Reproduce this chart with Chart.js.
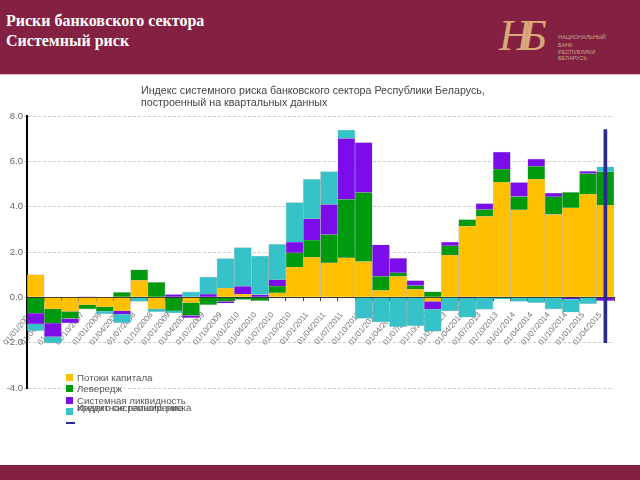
<!DOCTYPE html>
<html>
<head>
<meta charset="utf-8">
<title>Системный риск</title>
<script src="https://cdn.jsdelivr.net/npm/chart.js@4"></script>
<style>
    html, body { margin: 0; padding: 0; background: #fff; }
    #page { position: relative; width: 640px; height: 480px; overflow: hidden; }
    #chart { position: absolute; left: 0; top: 0; }
    .band { position: absolute; left: 0; width: 640px; background: #842041; }
    .abs { position: absolute; white-space: nowrap; }
    .head { left: 6px; color: #fff; font: bold 16px "Liberation Serif", serif; }
    .chart-title { left: 141px; color: #444; font: 10.7px "Liberation Sans", sans-serif; }
    .logo { left: 499px; top: 10px; color: #d9a878; font: italic 44px "Liberation Serif", serif; letter-spacing: -10px; }
    .logo-text { left: 558px; color: #c9a58c; font: 5.5px "Liberation Sans", sans-serif; }
    .leg { left: 77px; color: #555; font: 9.7px "Liberation Sans", sans-serif; }
    .swatch { position: absolute; left: 66px; width: 7px; height: 7px; }
</style>
</head>
<body>
<div id="page">
    <canvas id="chart" width="640" height="480"></canvas>

    <div class="band" style="top:0;height:74px;border-bottom:1px solid #e8b9c8"></div>
    <div class="band" style="top:465px;height:15px"></div>

    <div class="abs head" style="top:12px">Риски банковского сектора</div>
    <div class="abs head" style="top:32px">Системный риск</div>
    <div class="abs logo">НБ</div>
    <div class="abs logo-text" style="top:34px">НАЦИОНАЛЬНЫЙ</div>
    <div class="abs logo-text" style="top:42px">БАНК</div>
    <div class="abs logo-text" style="top:49px">РЕСПУБЛИКИ</div>
    <div class="abs logo-text" style="top:55px">БЕЛАРУСЬ</div>

    <div class="abs chart-title" style="top:84px">Индекс системного риска банковского сектора Республики Беларусь,</div>
    <div class="abs chart-title" style="top:96px">построенный на квартальных данных</div>

    <div id="legend"></div>
</div>

<script>
// =============================
// DATA
// =============================
const categories = [
    "01/01/2007", "01/04/2007", "01/07/2007", "01/10/2007",
    "01/01/2008", "01/04/2008", "01/07/2008", "01/10/2008",
    "01/01/2009", "01/04/2009", "01/07/2009", "01/10/2009",
    "01/01/2010", "01/04/2010", "01/07/2010", "01/10/2010",
    "01/01/2011", "01/04/2011", "01/07/2011", "01/10/2011",
    "01/01/2012", "01/04/2012", "01/07/2012", "01/10/2012",
    "01/01/2013", "01/04/2013", "01/07/2013", "01/10/2013",
    "01/01/2014", "01/04/2014", "01/07/2014", "01/10/2014",
    "01/01/2015", "01/04/2015"
];

const capitalFlows = [1.0, -0.52, -0.63, -0.34, -0.43, -0.6, 0.75, -0.52, 0, -0.24, 0, 0.41,
    0.15, 0, 0.2, 1.34, 1.78, 1.53, 1.75, 1.58, 0.31, 0.93, 0.37, -0.18,
    1.87, 3.15, 3.58, 5.09, 3.86, 5.22, 3.66, 3.95, 4.56, 4.07];

const leverage = [-0.7, -0.62, -0.31, -0.18, -0.18, 0.22, 0.47, 0.67, -0.6, -0.56, -0.33, -0.18,
    -0.1, -0.15, 0.3, 0.63, 0.75, 1.24, 2.58, 3.05, 0.62, 0.16, 0.15, 0.25,
    0.41, 0.28, 0.3, 0.57, 0.59, 0.56, 0.78, 0.69, 0.9, 1.47];

const liquidity = [-0.48, -0.6, -0.19, 0.02, 0, -0.15, 0, 0, 0.13, -0.1, 0.15, -0.08,
    0.34, 0.12, 0.28, 0.47, 0.94, 1.33, 2.68, 2.2, 1.39, 0.63, 0.22, -0.35,
    0.16, -0.03, 0.26, 0.75, 0.62, 0.32, 0.16, -0.08, 0.1, -0.15];

const creditExpansion = [-0.3, -0.28, 0, 0, -0.12, -0.37, -0.18, -0.12, -0.09, 0.24, 0.75, 1.3,
    1.71, 1.7, 1.56, 1.74, 1.74, 1.45, 0.37, -0.93, -1.09, -1.3, -1.25, -0.97,
    -0.6, -0.85, -0.53, -0.08, -0.18, -0.24, -0.52, -0.58, -0.28, 0.22];

// only the last quarter has the index marker: [from, to]
const riskIndex = categories.map((c, i) => i === categories.length - 1 ? [-2.0, 7.4] : null);

const yTicks = [8, 6, 4, 2, 0, -2, -4];

const legendNames = ["Потоки капитала", "Левередж", "Системная ликвидность", "Кредитное расширение", "Индекс системного риска"];
const legendColors = ["#ffc000", "#009a0f", "#7a0dea", "#35c3c9", "#2a2a90"];

// =============================
// LEGEND
// =============================
const legendTops = [372, 383, 395, 402, 402];
const legendBox = document.getElementById("legend");
legendNames.forEach((name, i) => {
    const label = document.createElement("div");
    label.className = "abs leg";
    label.style.top = legendTops[i] + "px";
    label.textContent = name;
    legendBox.appendChild(label);
});
legendColors.slice(0, 4).forEach((color, i) => {
    const box = document.createElement("div");
    box.className = "swatch";
    box.style.top = [374, 385, 397, 408][i] + "px";
    box.style.background = color;
    legendBox.appendChild(box);
});
const legendLine = document.createElement("div");
legendLine.className = "swatch";
legendLine.style.cssText += "top:422px;width:9px;height:2px;background:" + legendColors[4];
legendBox.appendChild(legendLine);

// =============================
// CHART
// =============================
function barSet(label, data, color) {
    return {
        label: label,
        data: data,
        backgroundColor: color,
        borderColor: "rgba(110,110,110,0.35)",
        borderWidth: 0.6,
        barPercentage: 1,
        categoryPercentage: 1,
        stack: "risk",
        yAxisID: "y"
    };
}

new Chart(document.getElementById("chart"), {
    type: "bar",
    data: {
        labels: categories,
        datasets: [
            {
                label: legendNames[4],
                data: riskIndex,
                backgroundColor: legendColors[4],
                barThickness: 3,
                stack: "risk",
                yAxisID: "y2",
                order: -1
            },
            barSet(legendNames[0], capitalFlows, legendColors[0]),
            barSet(legendNames[1], leverage, legendColors[1]),
            barSet(legendNames[2], liquidity, legendColors[2]),
            barSet(legendNames[3], creditExpansion, legendColors[3])
        ]
    },
    options: {
        responsive: false,
        animation: false,
        layout: { padding: { left: 0, top: 116, right: 26, bottom: 92 } },
        plugins: { legend: { display: false }, title: { display: false }, tooltip: { enabled: false } },
        scales: {
            x: {
                stacked: true,
                position: { y: 0 },
                afterFit: function (scale) { scale.paddingLeft = 0; scale.paddingRight = 0; },
                grid: { drawOnChartArea: false, drawTicks: true, tickLength: 3, color: "#444" },
                border: { color: "#333", width: 1 },
                ticks: {
                    autoSkip: false,
                    minRotation: 50,
                    maxRotation: 50,
                    padding: 10,
                    labelOffset: -5,
                    color: "#777",
                    font: { family: "Liberation Sans", size: 8 }
                }
            },
            y: {
                stacked: true,
                min: -4,
                max: 8,
                afterFit: function (scale) { scale.width = 27; },
                afterBuildTicks: function (scale) { scale.ticks = yTicks.map(v => ({ value: v })); },
                border: { color: "#000", width: 2, dash: [3, 2] },
                grid: { color: "#cfcfcf", drawTicks: true, tickLength: 3 },
                ticks: {
                    padding: 1,
                    color: "#666",
                    font: { family: "Liberation Sans", size: 9.5 },
                    callback: function (v) { return v.toFixed(1); }
                }
            },
            y2: {
                display: false,
                stacked: false,
                min: -4,
                max: 8
            }
        }
    }
});
</script>
</body>
</html>
